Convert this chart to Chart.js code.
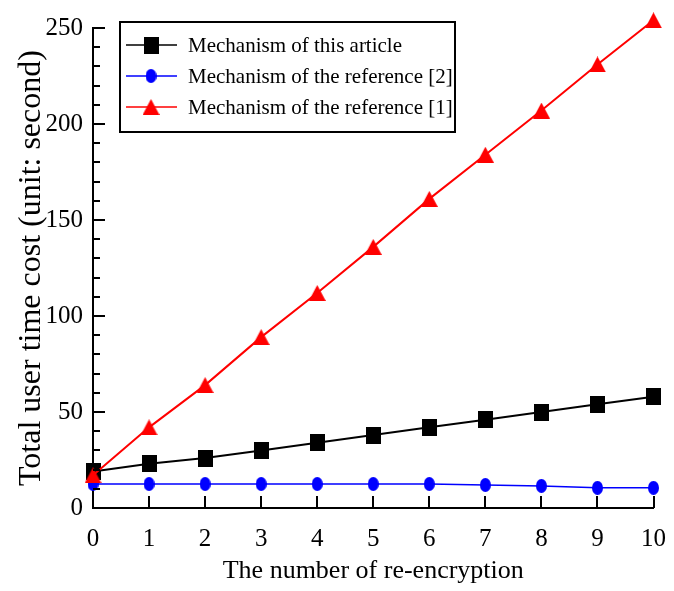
<!DOCTYPE html>
<html>
<head>
<meta charset="utf-8">
<script src="https://cdn.jsdelivr.net/npm/chart.js@4"></script>
<style>
  body { margin: 0; background: #fff; }
  #wrap { width: 674px; height: 591px; }
</style>
</head>
<body>
<div id="wrap"><canvas id="chart" width="674" height="591"></canvas></div>
<script>
// values
let rounds = [0, 1, 2, 3, 4, 5, 6, 7, 8, 9, 10];
let thisArticle = [19, 23, 26, 30, 34, 38, 42, 46, 50, 54, 58];
let reference2 = [12.5, 12.5, 12.5, 12.5, 12.5, 12.5, 12.5, 12, 11.5, 10.5, 10.5];
let reference1 = [17, 42, 64, 89, 112, 136, 161, 184, 207, 231, 254];
let yTicks = [0, 50, 100, 150, 200, 250];

let names = ["Mechanism of this article", "Mechanism of the reference [2]", "Mechanism of the reference [1]"];
let font = "'Liberation Serif', 'Times New Roman', serif";

function pts(arr) {
    return rounds.map((x, i) => ({x: x, y: arr[i]}));
}

// the picture is a bit stretched, so markers are drawn on small canvases
function marker(kind, w, h, color) {
    let cv = document.createElement("canvas");
    cv.width = w; cv.height = h;
    let g = cv.getContext("2d");
    g.fillStyle = color;
    g.beginPath();
    if (kind === "rect") g.rect(0, 0, w, h);
    if (kind === "ellipse") g.ellipse(w / 2, h / 2, w / 2, h / 2, 0, 0, Math.PI * 2);
    if (kind === "tri") { g.moveTo(w / 2, 0); g.lineTo(w, h); g.lineTo(0, h); g.closePath(); }
    g.fill();
    return cv;
}
let squareImg = marker("rect", 15, 17, "#000");
let circleImg = marker("ellipse", 11, 14, "#0000ff");
let triImg = marker("tri", 17, 16, "#ff0000");

// inward tick marks + boxed legend
let axisDeco = {
    id: "axisDeco",
    afterDraw(c) {
        let ctx = c.ctx, xs = c.scales.x, ys = c.scales.y;
        let x0 = xs.getPixelForValue(0), y0 = ys.getPixelForValue(0);
        ctx.save();
        ctx.strokeStyle = "#000";
        ctx.lineWidth = 2;
        for (let v = 0; v <= 250; v += 10) {
            let y = Math.round(ys.getPixelForValue(v));
            let len = v % 50 === 0 ? 12 : 7;
            ctx.beginPath(); ctx.moveTo(x0, y); ctx.lineTo(x0 + len, y); ctx.stroke();
        }
        rounds.forEach(v => {
            let x = Math.round(xs.getPixelForValue(v));
            ctx.beginPath(); ctx.moveTo(x, y0); ctx.lineTo(x, y0 - 12); ctx.stroke();
        });

        // legend
        ctx.lineWidth = 2;
        ctx.strokeRect(120, 22, 335, 110);
        let rows = [45, 76, 107];
        c.data.datasets.slice().sort((a, b) => a.legendOrder - b.legendOrder).forEach((ds, i) => {
            let y = rows[i];
            ctx.strokeStyle = ds.borderColor;
            ctx.lineWidth = 1.5;
            ctx.beginPath(); ctx.moveTo(126, y); ctx.lineTo(177, y); ctx.stroke();
            let img = ds.pointStyle;
            ctx.drawImage(img, 151 - img.width / 2, y - img.height / 2);
            ctx.fillStyle = "#000";
            ctx.font = "21px " + font;
            ctx.textBaseline = "middle";
            ctx.fillText(ds.label, 188, y + 1);
        });
        ctx.restore();
    }
};

new Chart(document.getElementById("chart"), {
    type: "line",
    data: {
        datasets: [
            {label: names[2], data: pts(reference1), borderColor: "#ff0000", backgroundColor: "#ff0000",
             borderWidth: 2, pointStyle: triImg, pointRadius: 14, legendOrder: 2},
            {label: names[0], data: pts(thisArticle), borderColor: "#000000", backgroundColor: "#000000",
             borderWidth: 2, pointStyle: squareImg, pointRadius: 14, legendOrder: 0},
            {label: names[1], data: pts(reference2), borderColor: "#0000ff", backgroundColor: "#0000ff",
             borderWidth: 1.5, pointStyle: circleImg, pointRadius: 14, legendOrder: 1}
        ]
    },
    options: {
        responsive: false,
        animation: false,
        clip: false,
        layout: {padding: {top: 28, right: 12, left: 8, bottom: 0}},
        plugins: {legend: {display: false}, tooltip: {enabled: false}},
        scales: {
            x: {
                type: "linear", min: 0, max: 10,
                grid: {display: false},
                border: {display: true, color: "#000", width: 2},
                ticks: {stepSize: 1, color: "#000", font: {family: font, size: 25}, padding: 8},
                title: {display: true, text: "The number of re-encryption", color: "#000",
                        font: {family: font, size: 26}, padding: {top: 5}},
                afterFit(s) { s.height = 83; }
            },
            y: {
                min: 0, max: 250,
                grid: {display: false},
                border: {display: true, color: "#000", width: 2},
                afterBuildTicks(s) { s.ticks = yTicks.map(v => ({value: v})); },
                ticks: {color: "#000", font: {family: font, size: 25}, padding: 2},
                title: {display: true, text: "Total user time cost (unit: second)", color: "#000",
                        font: {family: font, size: 32}, padding: {bottom: 0}},
                afterFit(s) { s.width = 85; }
            }
        }
    },
    plugins: [axisDeco]
});
</script>
</body>
</html>
